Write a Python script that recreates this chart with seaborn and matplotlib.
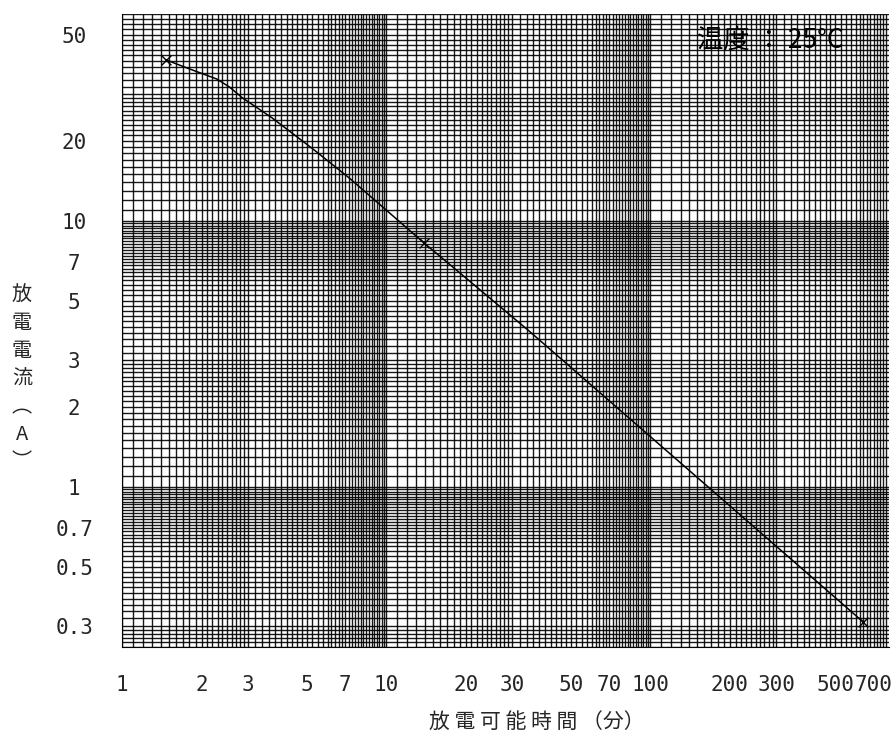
import numpy as np
import pandas as pd
import seaborn as sns
import matplotlib
matplotlib.use("Agg")
import matplotlib.pyplot as plt

# -------------------------------
# Data
# -------------------------------
time_min = [1.47, 1.8, 2.28, 2.55, 2.86, 3.7, 5.26, 7.25, 13.9, 34.7, 640]
current_a = [40.3, 37.3, 34.2, 31.9, 29.0, 24.4, 18.7, 14.5, 8.27, 3.86, 0.31]
marker_time = [1.47, 13.9, 640]
marker_current = [40.3, 8.27, 0.31]

x_ticks = [1, 2, 3, 5, 7, 10, 20, 30, 50, 70, 100, 200, 300, 500, 700]
x_labels = ["1", "2", "3", "5", "7", "10", "20", "30", "50", "70", "100", "200", "300", "500", "700"]
y_ticks = [0.3, 0.5, 0.7, 1, 2, 3, 5, 7, 10, 20, 50]
y_labels = ["0.3", "0.5", "0.7", "1", "2", "3", "5", "7", "10", "20", "50"]

df = pd.DataFrame({"time": time_min, "current": current_a})
mk = pd.DataFrame({"time": marker_time, "current": marker_current})

sns.set_style("white")
plt.rcParams["font.family"] = ["Noto Sans CJK JP", "DejaVu Sans"]

fig = plt.figure(figsize=(8.93, 7.51), dpi=100)
ax = fig.add_axes([122 / 893, 1 - 647 / 751, (889 - 122) / 893, (647 - 14) / 751])
ax.set_xscale("log")
ax.set_yscale("log")
ax.set_xlim(1, 800)
ax.set_ylim(0.25, 60)

# log graph-paper grid (finer steps in some parts of each decade)
mant = np.concatenate([
    np.arange(1.0, 2.0, 0.1),
    np.arange(2.0, 3.0, 0.1),
    np.arange(3.0, 5.0, 0.2),
    np.arange(5.0, 6.0, 0.25),
    np.arange(6.0, 10.0, 0.2),
])


def paper_lines(lo, hi):
    vals = []
    for e in range(-2, 4):
        for m in mant:
            v = m * 10.0 ** e
            if lo <= v <= hi:
                vals.append(v)
    return vals


gx = paper_lines(1, 800)
gy = paper_lines(0.25, 60)
ax.vlines(gx, 0, 1, transform=ax.get_xaxis_transform(), colors="black", lw=1.0, alpha=0.9, zorder=1)
ax.hlines(gy, 0, 1, transform=ax.get_yaxis_transform(), colors="black", lw=1.0, alpha=0.9, zorder=1)

# discharge curve
sns.lineplot(data=df, x="time", y="current", color="black", lw=1.1, sort=False,
             estimator=None, ax=ax, zorder=3)
sns.scatterplot(data=mk, x="time", y="current", marker="x", color="black", s=50,
                linewidth=1.0, ax=ax, zorder=4)

# ticks
ax.set_xticks(x_ticks)
ax.set_xticklabels(x_labels)
ax.set_yticks(y_ticks)
ax.set_yticklabels(y_labels)
minor_x = [m * 10 ** e for e in range(0, 3) for m in range(1, 10) if m * 10 ** e <= 800]
minor_y = [m * 10.0 ** e for e in range(-1, 2) for m in range(1, 10) if 0.25 <= m * 10.0 ** e <= 60]
ax.set_xticks([v for v in minor_x if v not in x_ticks], minor=True)
ax.set_yticks([v for v in minor_y if v not in y_ticks], minor=True)
ax.xaxis.set_minor_formatter(plt.NullFormatter())
ax.yaxis.set_minor_formatter(plt.NullFormatter())
ax.tick_params(axis="both", which="both", direction="out", length=4.5, width=0.9, color="black")
ax.tick_params(axis="x", which="major", pad=16)
ax.tick_params(axis="y", which="major", pad=30)
for lab in ax.get_xticklabels() + ax.get_yticklabels():
    lab.set_family("DejaVu Sans Mono")
    lab.set_fontsize(15)
for lab in ax.get_yticklabels():
    lab.set_horizontalalignment("center")

for s in ["top", "right"]:
    ax.spines[s].set_visible(False)
ax.spines["left"].set_color("black")
ax.spines["bottom"].set_color("black")
ax.set_xlabel("")
ax.set_ylabel("")

ax.text(770 / 893, 1 - 40 / 751, "温度 ： 25°C", transform=fig.transFigure, ha="center", va="center",
        fontsize=19, color="black", zorder=5)

fig.text(22 / 893, 1 - 379 / 751, "放\n電\n電\n流\n︵\nA\n︶", ha="center", va="center",
         fontsize=14.5, linespacing=1.42, multialignment="center")
fig.text(537 / 893, 1 - 722 / 751, "放 電 可 能 時 間 （分）", ha="center", va="center", fontsize=15)

fig.savefig("out.png", dpi=100)
